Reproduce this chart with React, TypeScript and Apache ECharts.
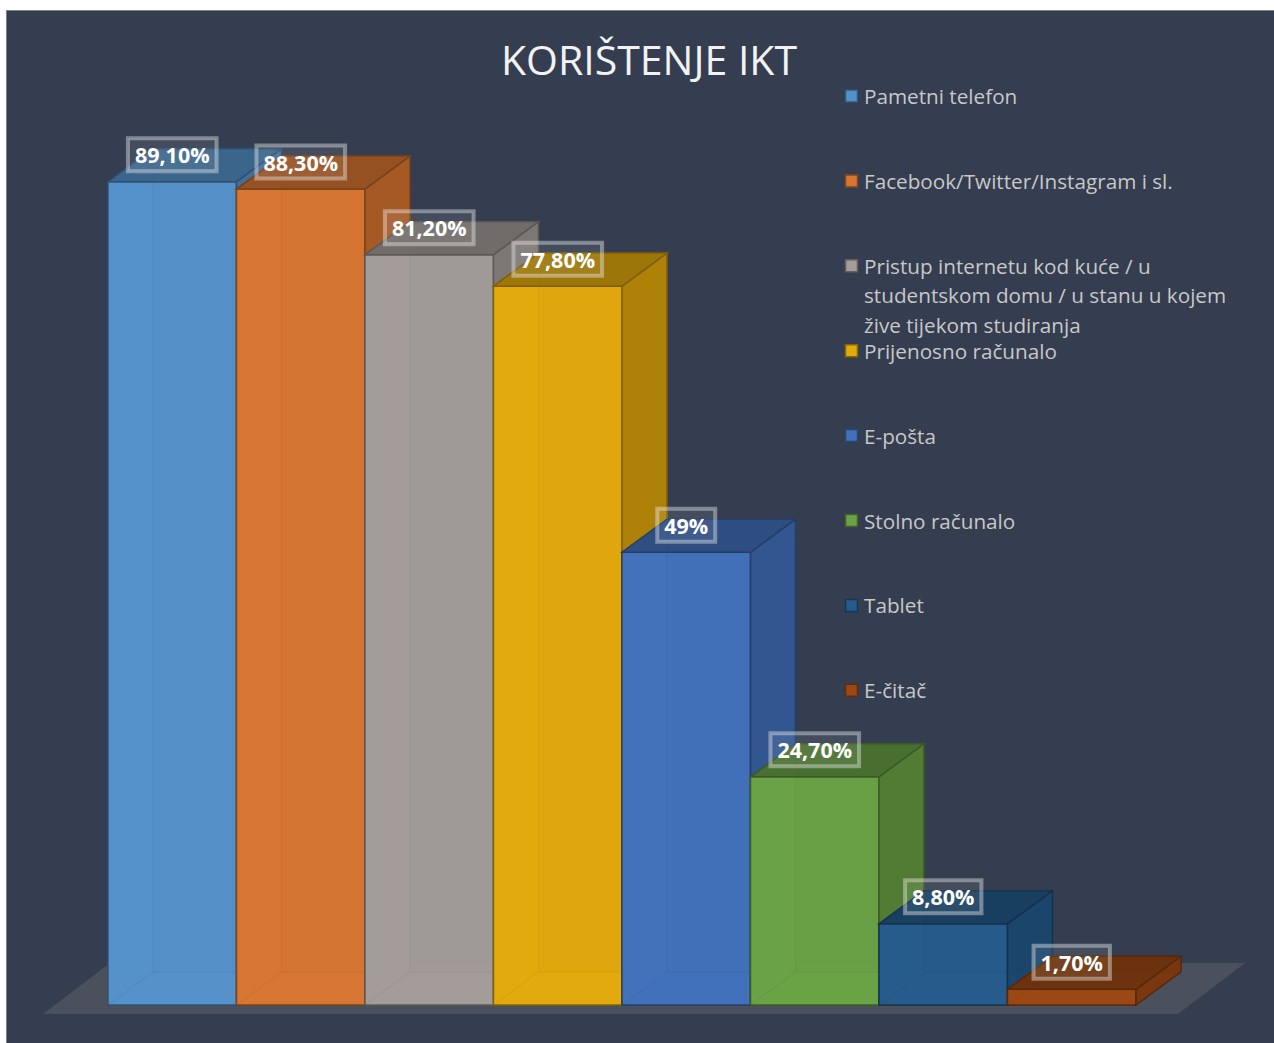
import React, { useEffect, useRef } from 'react';
import * as echarts from 'echarts';

const categories = [
  'Pametni telefon',
  'Facebook/Twitter/Instagram i sl.',
  'Pristup internetu kod kuće / u studentskom domu / u stanu u kojem žive tijekom studiranja',
  'Prijenosno računalo',
  'E-pošta',
  'Stolno računalo',
  'Tablet',
  'E-čitač',
];
const legendLines = [
  ['Pametni telefon'],
  ['Facebook/Twitter/Instagram i sl.'],
  ['Pristup internetu kod kuće / u', 'studentskom domu / u stanu u kojem', 'žive tijekom studiranja'],
  ['Prijenosno računalo'],
  ['E-pošta'],
  ['Stolno računalo'],
  ['Tablet'],
  ['E-čitač'],
];
const values = [89.1, 88.3, 81.2, 77.8, 49, 24.7, 8.8, 1.7];
const valueLabels = ['89,10%', '88,30%', '81,20%', '77,80%', '49%', '24,70%', '8,80%', '1,70%'];
const palette = ['#5591c9', '#d77632', '#a39c98', '#e3aa0c', '#4271bb', '#6aa245', '#255b8c', '#9c4814'];

const FONT = '"Open Sans", Lato, sans-serif';

function shade(hex: string, f: number): string {
  const n = parseInt(hex.slice(1), 16);
  const r = Math.round(((n >> 16) & 255) * f);
  const g = Math.round(((n >> 8) & 255) * f);
  const b = Math.round((n & 255) * f);
  const c = (v: number) => Math.max(0, Math.min(255, v)).toString(16).padStart(2, '0');
  return '#' + c(r) + c(g) + c(b);
}

function barRenderer(i: number) {
  return (params: any, api: any) => {
    const c = api.value(0);
    const v = api.value(1);
    const base = api.coord([c, 0]);
    const top = api.coord([c, v]);
    const bw = api.size([1, 0])[0];
    const x0 = base[0] - bw / 2;
    const x1 = base[0] + bw / 2;
    const yb = base[1];
    const yt = top[1];
    const dx = bw * 0.35;
    const dy = -bw * 0.257;
    const col = palette[i];
    const edge = shade(col, 0.55);
    return {
      type: 'group',
      children: [
        { type: 'rect', shape: { x: x0 + dx, y: yt + dy, width: bw, height: yb - yt }, style: { fill: shade(col, 0.93), stroke: edge, lineWidth: 1, opacity: 0.9 } },
        { type: 'polygon', shape: { points: [[x0, yb], [x0 + dx, yb + dy], [x0 + dx, yt + dy], [x0, yt]] }, style: { fill: shade(col, 1.06), stroke: edge, lineWidth: 1, opacity: 0.9 } },
        { type: 'polygon', shape: { points: [[x0, yb], [x1, yb], [x1 + dx, yb + dy], [x0 + dx, yb + dy]] }, style: { fill: shade(col, 1.06), stroke: edge, lineWidth: 1, opacity: 0.9 } },
        { type: 'rect', shape: { x: x0, y: yt, width: bw, height: yb - yt }, style: { fill: col, stroke: edge, lineWidth: 1.5, opacity: 0.88 } },
        { type: 'polygon', shape: { points: [[x1, yb], [x1 + dx, yb + dy], [x1 + dx, yt + dy], [x1, yt]] }, style: { fill: shade(col, 0.76), stroke: edge, lineWidth: 1.5, opacity: 0.95 } },
        { type: 'polygon', shape: { points: [[x0, yt], [x1, yt], [x1 + dx, yt + dy], [x0 + dx, yt + dy]] }, style: { fill: shade(col, 0.68), stroke: edge, lineWidth: 1.5, opacity: 0.95 } },
        {
          type: 'text',
          z2: 100,
          style: {
            text: valueLabels[i],
            x: base[0],
            y: yt - 27,
            align: 'center',
            verticalAlign: 'middle',
            fontFamily: FONT,
            fontSize: 21.5,
            fontWeight: 'bold',
            fill: '#ffffff',
            backgroundColor: 'rgba(255,255,255,0.08)',
            borderColor: 'rgba(235,235,235,0.42)',
            borderWidth: 2,
            padding: [6, 7, 5, 7],
          },
        },
      ],
    };
  };
}

function floorRenderer(params: any, api: any) {
  const bw = api.size([1, 0])[0];
  const first = api.coord([0, 0]);
  const last = api.coord([categories.length - 1, 0]);
  const left = first[0] - bw / 2;
  const right = last[0] + bw / 2;
  const y0 = first[1];
  return {
    type: 'group',
    children: [
      {
        type: 'polygon',
        shape: { points: [[left - 65, y0 + 9], [right + 42, y0 + 9], [right + 109, y0 - 42], [left + 2, y0 - 42]] },
        style: { fill: '#4a505c' },
      },
    ],
  };
}

export default function App() {
  const ref = useRef<HTMLDivElement>(null);
  useEffect(() => {
    if (!ref.current) return;
    const chart = echarts.init(ref.current, null, { renderer: 'svg' });
    const legendGraphics: any[] = [];
    legendLines.forEach((lines, i) => {
      const cy = 96 + i * 84.9;
      legendGraphics.push({
        type: 'rect',
        shape: { x: 845.5, y: cy - 6, width: 12, height: 12 },
        style: { fill: palette[i], stroke: shade(palette[i], 0.6), lineWidth: 1.5 },
      });
      lines.forEach((ln, k) => {
        legendGraphics.push({
          type: 'text',
          style: {
            text: ln,
            x: 864,
            y: cy + k * 29.5,
            verticalAlign: 'middle',
            align: 'left',
            fontFamily: FONT,
            fontSize: 20.7,
            fill: '#c8c8c8',
          },
        });
      });
    });
    const series: any[] = [
      {
        type: 'custom',
        name: 'floor',
        renderItem: floorRenderer,
        data: [[0, 0]],
        encode: { x: 0, y: 1 },
        silent: true,
      },
    ];
    categories.forEach((name, i) => {
      series.push({
        type: 'custom',
        name,
        renderItem: barRenderer(i),
        data: [[i, values[i]]],
        encode: { x: 0, y: 1 },
      });
    });
    chart.setOption({
      animation: false,
      backgroundColor: '#ffffff',
      title: {
        text: 'KORIŠTENJE IKT',
        left: 496,
        top: 33,
        textStyle: { color: '#f2f2f2', fontFamily: FONT, fontSize: 41, fontWeight: 'normal' },
      },
      graphic: [
        {
          type: 'rect',
          shape: { x: 6.5, y: 10.5, width: 1275, height: 1040 },
          style: { fill: '#343e50', stroke: '#808080', lineWidth: 1 },
          z: -10,
        },
        ...legendGraphics,
      ],
      grid: { left: 108, right: 138, top: 81, bottom: 38 },
      xAxis: {
        type: 'category',
        data: categories,
        show: false,
        boundaryGap: true,
      },
      yAxis: { type: 'value', min: 0, max: 100, show: false },
      series,
    });
    return () => chart.dispose();
  }, []);
  return <div ref={ref} style={{ position: 'absolute', left: 0, top: 0, width: 1274, height: 1043 }} />;
}
